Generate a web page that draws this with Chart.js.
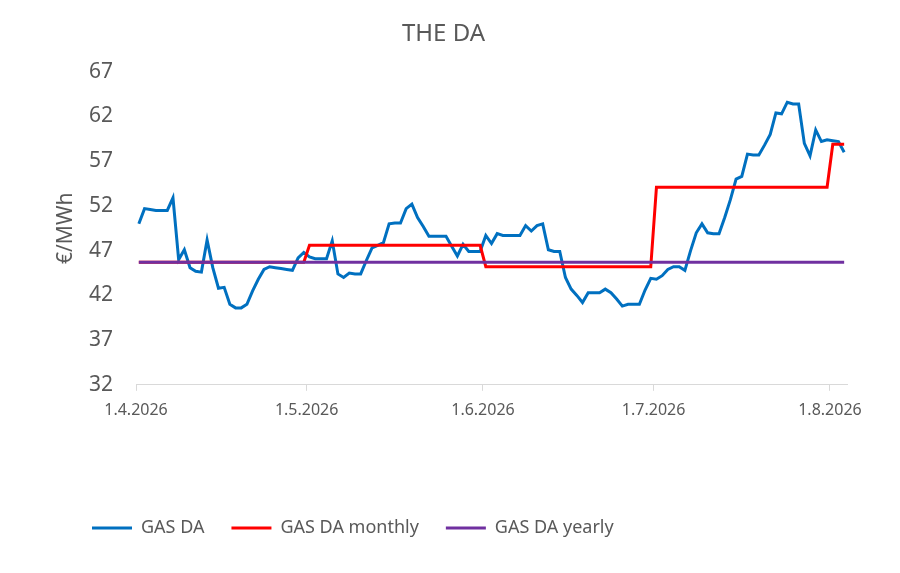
<!DOCTYPE html>
<html>
<head>
<meta charset="utf-8">
<title>THE DA</title>
<script src="https://cdn.jsdelivr.net/npm/chart.js@4.4.1/dist/chart.umd.min.js"></script>
<style>
    body { margin: 0; background: #fff; }
    #wrap { width: 900px; height: 573px; }
</style>
</head>
<body>
<div id="wrap"><canvas id="gasChart"></canvas></div>
<script>
// daily THE day-ahead prices, 1.4.2026 - 3.8.2026 (EUR/MWh)
const gasDa = [
    50.0, 51.7, 51.6, 51.5, 51.5, 51.5, 52.9, 46.0, 47.1, 45.1,
    44.7, 44.6, 48.2, 45.1, 42.8, 42.9, 41.0, 40.6, 40.6, 41.0,
    42.5, 43.8, 44.9, 45.2, 45.1, 45.0, 44.9, 44.8, 46.2, 46.8,
    46.3, 46.1, 46.1, 46.1, 48.1, 44.4, 44.0, 44.5, 44.4, 44.4,
    45.9, 47.3, 47.6, 47.9, 50.0, 50.1, 50.1, 51.7, 52.2, 50.7,
    49.7, 48.6, 48.6, 48.6, 48.6, 47.5, 46.4, 47.7, 46.9, 46.9,
    46.9, 48.7, 47.8, 48.9, 48.7, 48.7, 48.7, 48.7, 49.8, 49.2,
    49.8, 50.0, 47.1, 46.9, 46.9, 44.0, 42.7, 42.0, 41.2, 42.3,
    42.3, 42.3, 42.7, 42.3, 41.6, 40.8, 41.0, 41.0, 41.0, 42.6,
    43.9, 43.8, 44.2, 44.9, 45.2, 45.2, 44.8, 47.0, 49.0, 50.0,
    49.0, 48.9, 48.9, 50.7, 52.7, 55.0, 55.3, 57.8, 57.7, 57.7,
    58.8, 60.0, 62.4, 62.3, 63.6, 63.4, 63.4, 59.0, 57.6, 60.5,
    59.2, 59.4, 59.3, 59.2, 58.0
];

// monthly averages (Apr..Aug) and number of days shown per month
const monthlyAvg = [45.7, 47.6, 45.2, 54.1, 58.9];
const monthDays = [30, 31, 30, 31, 3];
const yearlyAvg = 45.7;

// x ticks: day offset from 1.4.2026
const tickDays = [0, 30, 61, 91, 122];
const tickLabels = ['1.4.2026', '1.5.2026', '1.6.2026', '1.7.2026', '1.8.2026'];
const yTicks = [32, 37, 42, 47, 52, 57, 62, 67];

const textColor = '#595959';
const fontFamily = "'Noto Sans', 'Liberation Sans', sans-serif";

// build per-day series; points sit in the middle of each day slot
const monthlySeries = [];
monthlyAvg.forEach((v, m) => {
    for (let d = 0; d < monthDays[m]; d++) {
        monthlySeries.push(v);
    }
});

const toPoints = (arr) => arr.map((v, i) => ({ x: i + 0.5, y: v }));

// Excel puts the legend block near the left edge, not at the canvas start
const legendShift = {
    id: 'legendShift',
    afterLayout(chart) {
        const lg = chart.legend;
        const h = lg.bottom - lg.top;
        lg.left = 65;
        lg.top = 492;
        lg.bottom = lg.top + h;
    }
};

const ctx = document.getElementById('gasChart').getContext('2d');

new Chart(ctx, {
    type: 'line',
    data: {
        datasets: [
            {
                label: 'GAS DA',
                data: toPoints(gasDa),
                borderColor: '#0070c0',
                backgroundColor: '#0070c0',
                borderWidth: 3,
                pointRadius: 0,
                tension: 0,
                order: 2
            },
            {
                label: 'GAS DA monthly',
                data: toPoints(monthlySeries),
                borderColor: '#ff0000',
                backgroundColor: '#ff0000',
                borderWidth: 3,
                pointRadius: 0,
                tension: 0,
                order: 1
            },
            {
                label: 'GAS DA yearly',
                data: toPoints(gasDa.map(() => yearlyAvg)),
                borderColor: '#7030a0',
                backgroundColor: '#7030a0',
                borderWidth: 3,
                pointRadius: 0,
                tension: 0,
                order: 0
            }
        ]
    },
    options: {
        responsive: true,
        maintainAspectRatio: false,
        animation: false,
        layout: {
            padding: { left: 40, right: 53, top: 0, bottom: 88 }
        },
        scales: {
            x: {
                type: 'linear',
                min: 0,
                max: 125,
                afterBuildTicks: (scale) => {
                    scale.ticks = tickDays.map(v => ({ value: v }));
                },
                ticks: {
                    autoSkip: false,
                    maxRotation: 0,
                    padding: 10,
                    color: textColor,
                    font: { family: fontFamily, size: 16 },
                    callback: (v) => tickLabels[tickDays.indexOf(v)]
                },
                grid: {
                    drawOnChartArea: false,
                    drawTicks: true,
                    tickLength: 6,
                    color: '#d9d9d9'
                },
                border: { color: '#d9d9d9', width: 1 }
            },
            y: {
                min: 32,
                max: 67,
                afterBuildTicks: (scale) => {
                    scale.ticks = yTicks.map(v => ({ value: v }));
                },
                afterFit: (scale) => {
                    scale.width = 96;
                },
                ticks: {
                    padding: 23,
                    color: textColor,
                    font: { family: fontFamily, size: 21 }
                },
                grid: { display: false, drawTicks: false },
                border: { display: false },
                title: {
                    display: true,
                    text: '€/MWh',
                    color: textColor,
                    font: { family: fontFamily, size: 21 },
                    padding: { top: 13, bottom: 13 }
                }
            }
        },
        plugins: {
            title: {
                display: true,
                text: 'THE DA',
                color: textColor,
                font: { family: fontFamily, size: 24, weight: 'normal' },
                padding: { top: 20, bottom: 23 }
            },
            legend: {
                position: 'bottom',
                align: 'start',
                labels: {
                    usePointStyle: true,
                    pointStyle: 'line',
                    pointStyleWidth: 40,
                    padding: 27,
                    color: textColor,
                    font: { family: fontFamily, size: 18 },
                    sort: (a, b) => a.datasetIndex - b.datasetIndex
                }
            },
            tooltip: { enabled: false }
        }
    },
    plugins: [legendShift]
});
</script>
</body>
</html>
